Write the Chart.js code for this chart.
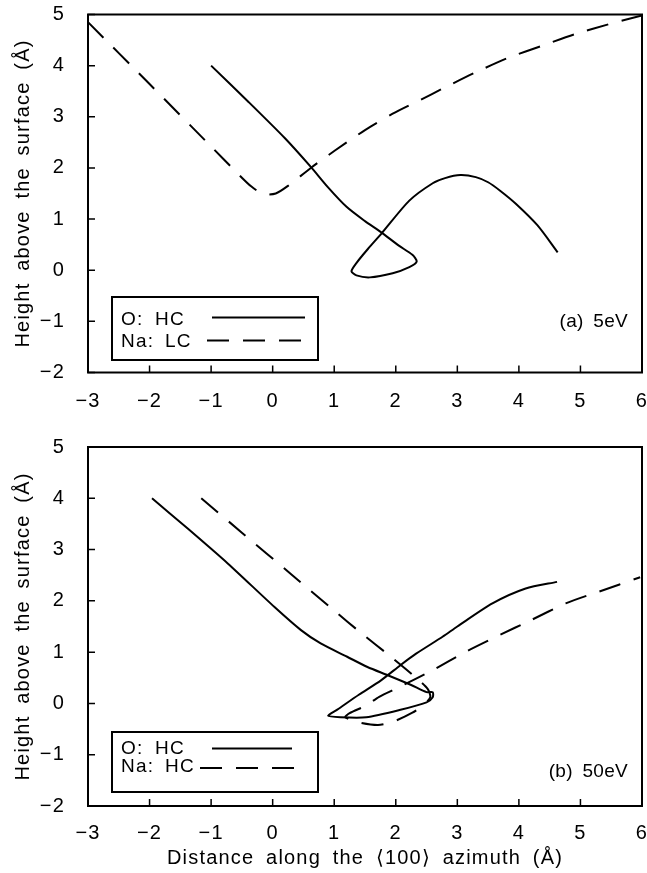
<!DOCTYPE html>
<html><head><meta charset="utf-8">
<script src="https://cdn.jsdelivr.net/npm/chart.js@4/dist/chart.umd.min.js"></script>
<style>
html,body{margin:0;padding:0;background:#fff;}
#wrap{position:relative;width:647px;height:873px;overflow:hidden;}
canvas{position:absolute;left:0;}
#c1{top:0;} #c2{top:420px;}
</style></head><body>
<div id="wrap"><canvas id="c1" width="647" height="420"></canvas><canvas id="c2" width="647" height="453"></canvas></div>
<script>
// ---- data ----
const xTicks = [-3,-2,-1,0,1,2,3,4,5,6];
const yTicks = [-2,-1,0,1,2,3,4,5];

// (a) 5 eV : O on HC (solid)
const a_O_x = [-1, -0.4, 0.2, 0.62, 0.9, 1.2, 1.5, 1.76, 2.05, 2.27, 2.34, 2.22, 1.95, 1.58, 1.36, 1.28, 1.36, 1.55, 1.77, 2.22, 2.6, 2.8, 3.05, 3.3, 3.5, 3.7, 3.95, 4.3, 4.63];
const a_O_y = [4.0, 3.3, 2.58, 2.02, 1.62, 1.24, 0.96, 0.745, 0.48, 0.3, 0.17, 0.06, -0.06, -0.14, -0.1, -0.02, 0.14, 0.42, 0.72, 1.36, 1.70, 1.80, 1.86, 1.82, 1.72, 1.55, 1.30, 0.88, 0.35];
// (a) 5 eV : Na on LC (dashed)
const a_Na_x = [-3, -2, -1, -0.6, -0.35, -0.15, 0.05, 0.25, 0.62, 1.0, 1.5, 1.95, 2.4, 2.76, 3.3, 3.84, 4.38, 4.92, 5.46, 6];
const a_Na_y = [4.85, 3.64, 2.42, 1.93, 1.64, 1.49, 1.5, 1.65, 2.0, 2.33, 2.74, 3.06, 3.33, 3.55, 3.87, 4.16, 4.39, 4.62, 4.81, 4.98];

// (b) 50 eV : O on HC (solid)
const b_O_x = [-1.96, -1.38, -0.73, 0.03, 0.46, 0.78, 1.21, 1.54, 1.87, 2.25, 2.5, 2.6, 2.6, 2.5, 2.06, 1.52, 1.1, 0.9, 1.05, 1.4, 1.76, 2.08, 2.33, 2.76, 3.0, 3.57, 4.11, 4.62];
const b_O_y = [4.0, 3.41, 2.73, 1.88, 1.43, 1.17, 0.91, 0.71, 0.55, 0.36, 0.22, 0.22, 0.12, 0.02, -0.13, -0.27, -0.27, -0.24, -0.12, 0.17, 0.45, 0.75, 0.97, 1.30, 1.5, 1.95, 2.24, 2.37];
// (b) 50 eV : Na on HC (dashed)
const b_Na_x = [-1.16, -0.5, 0.3, 1.0, 1.43, 1.9, 2.35, 2.52, 2.56, 2.45, 2.27, 1.95, 1.71, 1.4, 1.18, 1.25, 1.52, 1.73, 2.06, 2.6, 3.14, 3.68, 4.19, 4.76, 5.3, 5.97];
const b_Na_y = [4.0, 3.33, 2.52, 1.81, 1.38, 0.93, 0.48, 0.28, 0.12, -0.03, -0.18, -0.36, -0.42, -0.37, -0.27, -0.19, -0.04, 0.13, 0.32, 0.65, 1.01, 1.33, 1.62, 1.95, 2.18, 2.46];

const xTitle = 'Distance along the \u27E8100\u27E9 azimuth (\u00C5)';
const yTitle = 'Height above the surface (\u00C5)';

// ---- drawing ----
const FONT = '"Liberation Sans", Arial, "DejaVu Sans", sans-serif';
const DASH = [22, 14];
const fmt = v => String(v).replace('-', '\u2212');
const pts = (xs, ys) => xs.map((x, i) => ({x, y: ys[i]}));

const spacingPlugin = {
  id: 'spacing',
  beforeLayout(chart) { chart.ctx.letterSpacing = '1.2px'; chart.ctx.wordSpacing = '5px'; },
  beforeDraw(chart) { chart.ctx.letterSpacing = '1.2px'; chart.ctx.wordSpacing = '5px'; }
};

const framePlugin = {
  id: 'frame',
  afterDatasetsDraw(chart, args, o) {
    const ctx = chart.ctx, a = chart.chartArea;
    const xs = chart.scales.x, ys = chart.scales.y;
    ctx.save();
    ctx.strokeStyle = '#000'; ctx.lineWidth = 2; ctx.setLineDash([]);
    ctx.strokeRect(a.left, a.top, a.right - a.left, a.bottom - a.top);
    ctx.lineWidth = 1.5;
    ctx.beginPath();
    xTicks.forEach(v => { const p = xs.getPixelForValue(v); ctx.moveTo(p, a.bottom); ctx.lineTo(p, a.bottom - 7); });
    yTicks.forEach(v => { const p = ys.getPixelForValue(v); ctx.moveTo(a.left, p); ctx.lineTo(a.left + 7, p); });
    ctx.stroke();
    // legend box
    const L = o.legend;
    ctx.lineWidth = 2;
    ctx.fillStyle = '#fff';
    ctx.fillRect(L.box[0], L.box[1], L.box[2] - L.box[0], L.box[3] - L.box[1]);
    ctx.strokeRect(L.box[0], L.box[1], L.box[2] - L.box[0], L.box[3] - L.box[1]);
    ctx.fillStyle = '#000';
    ctx.font = '19px ' + FONT;
    ctx.textBaseline = 'middle'; ctx.textAlign = 'left';
    chart.data.datasets.forEach((ds, i) => {
      const r = L.rows[i];
      const parts = ds.label.split(': ');
      ctx.fillText(parts[0] + ':', r.tx, r.ty);
      ctx.fillText(parts[1], r.tx2, r.ty);
      ctx.setLineDash(ds.borderDash || []);
      ctx.lineWidth = 2;
      ctx.beginPath(); ctx.moveTo(r.l0, r.ly); ctx.lineTo(r.l1, r.ly); ctx.stroke();
      ctx.setLineDash([]);
    });
    // panel label
    ctx.font = '19px ' + FONT;
    ctx.letterSpacing = '0.3px'; ctx.wordSpacing = '4px';
    ctx.textAlign = 'right';
    ctx.fillText(o.panel.text, o.panel.x, o.panel.y);
    ctx.restore();
  }
};

function build(id, cfg) {
  const datasets = cfg.series.map(s => ({
    label: s.label,
    data: pts(s.x, s.y),
    showLine: true,
    borderColor: '#000',
    borderWidth: 2,
    borderDash: s.dash ? DASH : [],
    pointRadius: 0,
    tension: 0.25,
    fill: false
  }));
  return new Chart(document.getElementById(id), {
    type: 'scatter',
    data: {datasets},
    options: {
      responsive: false, animation: false, devicePixelRatio: 1,
      layout: {padding: {left: 0, right: 5, top: cfg.padTop, bottom: 0}},
      plugins: {
        legend: {display: false}, tooltip: {enabled: false},
        frame: {legend: cfg.legend, panel: cfg.panel}
      },
      scales: {
        x: {
          type: 'linear', min: xTicks[0], max: xTicks[xTicks.length - 1],
          afterBuildTicks: s => { s.ticks = xTicks.map(v => ({value: v})); },
          afterFit: s => { s.height = cfg.xH; s.paddingLeft = 0; s.paddingRight = 0; },
          grid: {display: false, drawTicks: false},
          border: {display: false},
          ticks: {padding: cfg.xPad, color: '#000', font: {family: FONT, size: 20}, maxRotation: 0, autoSkip: false, callback: v => fmt(v)},
          title: {display: !!cfg.xTitle, text: cfg.xTitle || '', color: '#000', font: {family: FONT, size: 20}, padding: {top: 0, bottom: 3}}
        },
        y: {
          type: 'linear', min: yTicks[0], max: yTicks[yTicks.length - 1],
          afterBuildTicks: s => { s.ticks = yTicks.map(v => ({value: v})); },
          afterFit: s => { s.width = 88; s.paddingTop = 0; s.paddingBottom = 0; },
          grid: {display: false, drawTicks: false},
          border: {display: false},
          ticks: {padding: 23, color: '#000', font: {family: FONT, size: 20}, autoSkip: false, callback: v => fmt(v)},
          title: {display: true, text: yTitle, color: '#000', font: {family: FONT, size: 20}, padding: {top: 11, bottom: 0}}
        }
      }
    },
    plugins: [spacingPlugin, framePlugin]
  });
}

build('c1', {
  padTop: 14.5, xH: 47.5, xPad: 17,
  series: [
    {label: 'O: HC', x: a_O_x, y: a_O_y, dash: false},
    {label: 'Na: LC', x: a_Na_x, y: a_Na_y, dash: true}
  ],
  legend: {box: [112, 297, 318, 360], rows: [
    {tx: 121, tx2: 155, ty: 319.5, l0: 212, l1: 305, ly: 317.5},
    {tx: 121, tx2: 165, ty: 341.5, l0: 207, l1: 302, ly: 340.5}
  ]},
  panel: {text: '(a) 5eV', x: 628, y: 322}
});

build('c2', {
  padTop: 27, xH: 67, xPad: 15, xTitle: xTitle,
  series: [
    {label: 'O: HC', x: b_O_x, y: b_O_y, dash: false},
    {label: 'Na: HC', x: b_Na_x, y: b_Na_y, dash: true}
  ],
  legend: {box: [112, 312, 318, 372], rows: [
    {tx: 121, tx2: 155, ty: 328.5, l0: 212, l1: 292, ly: 328.5},
    {tx: 121, tx2: 165, ty: 347, l0: 200, l1: 302, ly: 348}
  ]},
  panel: {text: '(b) 50eV', x: 628, y: 352}
});
</script>
</body></html>
